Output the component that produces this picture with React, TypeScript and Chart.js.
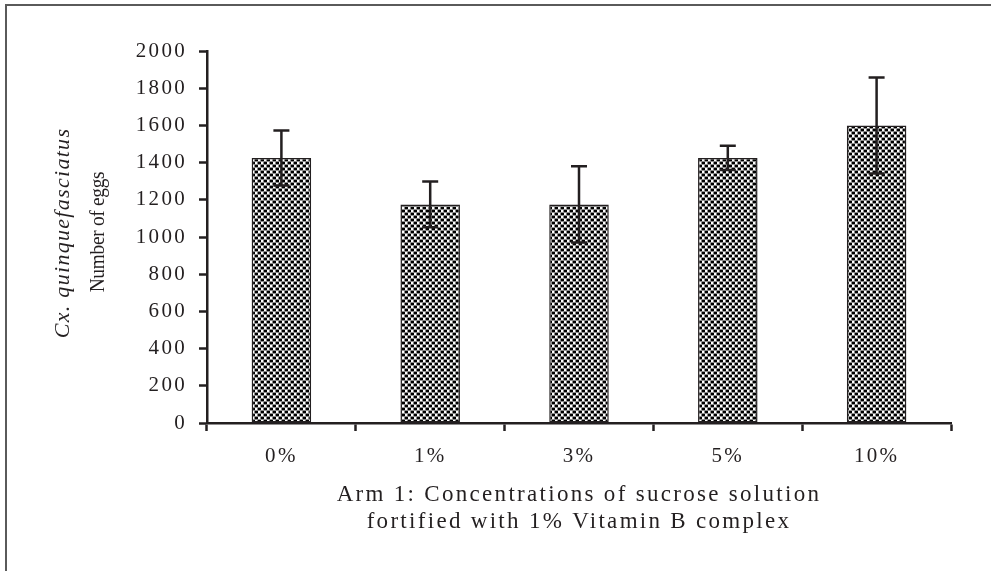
import React, { useEffect, useRef } from "react";
import { Chart, registerables } from "chart.js";

Chart.register(...registerables);

const categories = ["0%", "1%", "3%", "5%", "10%"];
const eggMeans = [1425, 1175, 1175, 1425, 1600];
const eggErrors = [148, 123, 205, 65, 258];
const yTicks = [0, 200, 400, 600, 800, 1000, 1200, 1400, 1600, 1800, 2000];
const xTitleLines = [
  "Arm 1: Concentrations of sucrose solution",
  "fortified with 1% Vitamin B complex",
];
const yTitleItalic = "Cx. quinquefasciatus";
const yTitlePlain = "Number of eggs";

const INK = "#231f20";
const SERIF = '"Liberation Serif", "Times New Roman", serif';
const SPACING = "2.3px";

function makePattern(ctx: CanvasRenderingContext2D): CanvasPattern | string {
  const c = document.createElement("canvas");
  c.width = 6;
  c.height = 6;
  const p = c.getContext("2d");
  if (!p) return "#888";
  p.fillStyle = "#8c8c8c";
  p.fillRect(0, 0, 6, 6);
  p.fillStyle = "#000";
  p.fillRect(0, 0, 3, 2);
  p.fillRect(3, 3, 3, 2);
  p.fillStyle = "#fff";
  p.fillRect(3, 0, 2, 2);
  p.fillRect(0, 3, 2, 2);
  return ctx.createPattern(c, "repeat") || "#888";
}

const spacingPlugin = {
  id: "spacing",
  beforeUpdate(chart: any) {
    chart.ctx.letterSpacing = SPACING;
  },
  beforeDraw(chart: any) {
    const ctx = chart.ctx;
    ctx.letterSpacing = SPACING;
    ctx.save();
    ctx.strokeStyle = "#5a5a5a";
    ctx.lineWidth = 2;
    ctx.beginPath();
    ctx.moveTo(6, 571);
    ctx.lineTo(6, 5);
    ctx.lineTo(991, 5);
    ctx.stroke();
    ctx.restore();
  },
};

function drawVertical(
  ctx: CanvasRenderingContext2D,
  text: string,
  cx: number,
  cy: number,
  font: string,
  spacing: string,
  stretch: number
) {
  ctx.save();
  ctx.fillStyle = INK;
  ctx.textAlign = "center";
  ctx.textBaseline = "middle";
  (ctx as any).letterSpacing = spacing;
  ctx.font = font;
  ctx.translate(cx, cy);
  ctx.rotate(-Math.PI / 2);
  ctx.scale(stretch, 1);
  ctx.fillText(text, 0, 0);
  ctx.restore();
}

const errorBarPlugin = {
  id: "errorBars",
  afterDatasetsDraw(chart: any) {
    const ctx = chart.ctx;
    const meta = chart.getDatasetMeta(0);
    const y = chart.scales.y;
    ctx.save();
    ctx.strokeStyle = INK;
    ctx.lineWidth = 2.5;
    meta.data.forEach((bar: any, i: number) => {
      const x = bar.x;
      const top = y.getPixelForValue(eggMeans[i] + eggErrors[i]);
      const bot = y.getPixelForValue(eggMeans[i] - eggErrors[i]);
      ctx.beginPath();
      ctx.moveTo(x, top);
      ctx.lineTo(x, bot);
      ctx.moveTo(x - 8, top);
      ctx.lineTo(x + 8, top);
      ctx.moveTo(x - 8, bot);
      ctx.lineTo(x + 8, bot);
      ctx.stroke();
    });
    ctx.restore();
  },
  afterDraw(chart: any) {
    const ctx = chart.ctx;
    drawVertical(ctx, yTitleItalic, 63, 233, `italic 22px ${SERIF}`, "1.3px", 1);
    drawVertical(ctx, yTitlePlain, 98, 232, `21px ${SERIF}`, "-0.3px", 0.92);
  },
};

export default function App() {
  const ref = useRef<HTMLCanvasElement | null>(null);
  useEffect(() => {
    document.body.style.margin = "0";
    const canvas = ref.current;
    if (!canvas) return;
    const ctx = canvas.getContext("2d");
    if (!ctx) return;
    const pattern = makePattern(ctx);
    const chart = new Chart(canvas, {
      type: "bar",
      data: {
        labels: categories,
        datasets: [
          {
            data: eggMeans,
            backgroundColor: pattern as any,
            borderColor: INK,
            borderWidth: 1.5,
            borderSkipped: false,
            barPercentage: 0.4,
            categoryPercentage: 1,
          },
        ],
      },
      options: {
        responsive: false,
        animation: false,
        layout: { padding: { left: 0, top: 51, right: 40, bottom: 0 } },
        plugins: { legend: { display: false }, tooltip: { enabled: false } },
        scales: {
          x: {
            offset: true,
            grid: {
              offset: true,
              drawOnChartArea: false,
              drawTicks: true,
              tickLength: 8,
              tickWidth: 2.5,
              color: INK,
            },
            border: { display: true, color: INK, width: 2.5 },
            ticks: {
              color: INK,
              padding: 13,
              font: { family: SERIF, size: 21 },
              maxRotation: 0,
            },
            title: {
              display: true,
              text: xTitleLines,
              color: INK,
              font: { family: SERIF, size: 23, lineHeight: 1.2 },
              padding: { top: 0, bottom: 35 },
            },
            afterFit(scale: any) {
              scale.height = 148;
            },
          },
          y: {
            min: 0,
            max: 2000,
            afterBuildTicks(scale: any) {
              scale.ticks = yTicks.map((v) => ({ value: v }));
            },
            grid: {
              drawOnChartArea: false,
              drawTicks: true,
              tickLength: 8,
              tickWidth: 2.5,
              color: INK,
            },
            border: { display: true, color: INK, width: 2.5 },
            ticks: {
              color: INK,
              padding: 12,
              font: { family: SERIF, size: 21 },
              callback: (v: any) => String(v),
            },
            afterFit(scale: any) {
              scale.width = 207;
            },
          },
        },
      },
      plugins: [spacingPlugin, errorBarPlugin],
    });
    return () => chart.destroy();
  }, []);
  return (
    <div style={{ width: 991, height: 571 }}>
      <canvas ref={ref} width={991} height={571} style={{ display: "block" }} />
    </div>
  );
}
